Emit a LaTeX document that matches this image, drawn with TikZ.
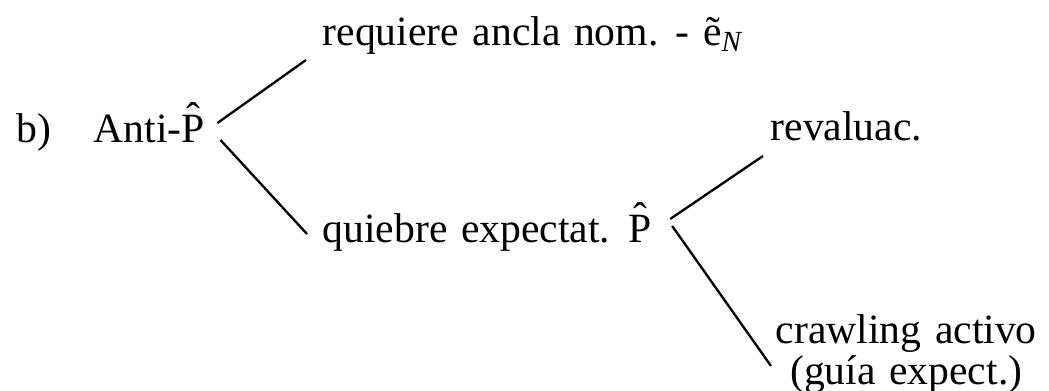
\documentclass[tikz,border=0pt]{standalone}
\usepackage{fontspec}
\setmainfont[WordSpace=1.3]{Liberation Serif}
\usetikzlibrary{positioning}
\newcommand{\Phat}{\ooalign{P\cr\hidewidth\raisebox{3.5pt}{ˆ}\hidewidth\cr}}
\tikzset{
    txt/.style={anchor=base west, inner sep=0pt},
    branch/.style={line width=0.7pt},
    every node/.style={font=\fontsize{12.5pt}{10.4pt}\selectfont}
}
\begin{document}
\begin{tikzpicture}[x=0.3pt, y=-0.3pt]
\useasboundingbox (0,0) rectangle (1049,391);

\node[txt] (lab) at (16,143) {b)};
\node[txt] (anti) at (93,143) {Anti-\Phat};
\node[txt] (req) at (322,46) {requiere ancla nom. - ẽ\textsubscript{\itshape N}};
\node[txt] (quie) at (322,243) {quiebre expectat.};
\node[txt, right=5pt of quie.base east, anchor=base west] (phat) {\Phat};
\node[txt] (rev) at (770,141) {revaluac.};
\node[txt, align=center] (crawl) at (775,385) {crawling activo\\(guía expect.)};

\draw[branch] ([shift={(12,-20)}]anti.base east) -- ([shift={(-16,14)}]req.base west);
\draw[branch] ([shift={(15,-3)}]anti.base east) -- ([shift={(-15,-9)}]quie.base west);
\draw[branch] ([shift={(18,-24)}]phat.base east) -- ([shift={(-7,15)}]rev.base west);
\draw[branch] ([shift={(20,-17)}]phat.base east) -- ([shift={(-4,-19)}]crawl.base west);
\end{tikzpicture}
\end{document}
